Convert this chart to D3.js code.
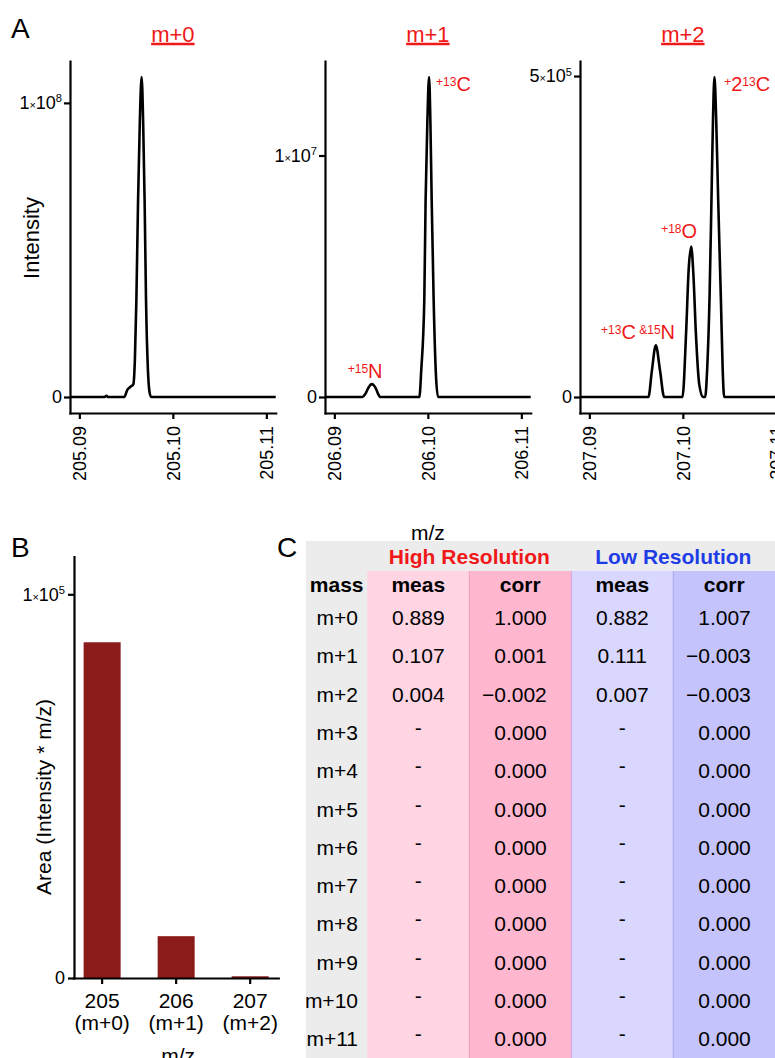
<!DOCTYPE html>
<html>
<head>
<meta charset="utf-8">
<script src="https://cdn.jsdelivr.net/npm/d3@7"></script>
<style>
  body { margin: 0; background: #fff; }
  svg { display: block; }
</style>
</head>
<body>
<div id="chart"></div>
<script>
// ---- panel A: spectra (m/z, intensity) ----
var m0Mz = [205.08900, 205.09267, 205.09289, 205.09310, 205.09481, 205.09513, 205.09545, 205.09578,
            205.09594, 205.09610, 205.09628, 205.09647, 205.09666, 205.09682, 205.09698, 205.09713,
            205.09733, 205.09749, 205.09767, 205.11100];
var m0Int = [0, 0, 4e5, 0, 0, 2.4e6, 3.4e6, 4.4e6,
             1.28e7, 3.31e7, 6.69e7, 9.39e7, 1.088e8, 9.39e7, 6.69e7, 3.31e7,
             9.5e6, 2.0e6, 0, 0];

var m1Mz = [206.08900, 206.09300, 206.09330, 206.09362, 206.09383, 206.09401, 206.09420, 206.09442,
            206.09469, 206.09490, 206.09909, 206.09930, 206.09962, 206.09976, 206.09995, 206.10013,
            206.10027, 206.10041, 206.10062, 206.10086, 206.10109, 206.11100];
var m1Int = [0, 0, 1.2e5, 3.7e5, 4.9e5, 5.35e5, 4.9e5, 3.7e5,
             1.2e5, 0, 0, 1.15e6, 4.03e6, 8.15e6, 1.144e7, 1.325e7,
             1.144e7, 8.15e6, 4.03e6, 9.5e5, 0, 0];

var m2Mz = [207.08900, 207.09632, 207.09668, 207.09711, 207.09757, 207.09800, 207.09996, 207.10035,
            207.10062, 207.10089, 207.10113, 207.10139, 207.10175, 207.10214, 207.10239, 207.10260,
            207.10285, 207.10306, 207.10322, 207.10338, 207.10357, 207.10378, 207.10407, 207.10426,
            207.10442, 207.11100];
var m2Int = [0, 0, 4.0e4, 8.05e4, 4.0e4, 0, 0, 1.006e5,
             1.98e5, 2.342e5, 1.904e5, 1.006e5, 2.0e4, 0, 0, 4.33e4,
             1.517e5, 3.065e5, 4.30e5, 4.985e5, 4.30e5, 3.065e5, 1.517e5, 4.33e4,
             0, 0];

var panelTitles = ["m+0", "m+1", "m+2"];
var xTicks0 = [205.09, 205.10, 205.11];
var xTicks1 = [206.09, 206.10, 206.11];
var xTicks2 = [207.09, 207.10, 207.11];
var yTicks0 = [0, 1e8];
var yTicks1 = [0, 1e7];
var yTicks2 = [0, 5e5];

// isotope labels: panel index, m/z, intensity, text pieces (1 = small raised)
var isoPanel = [1, 1, 2, 2, 2];
var isoMz = [206.10088, 206.09329, 207.10442, 207.09960, 207.09521];
var isoInt = [1.265e7, 7.7e5, 4.768e5, 2.481e5, 9.09e4];
var isoAnchor = ["start", "middle", "start", "middle", "middle"];
var isoParts = [
  [["+", 1], ["13", 1], ["C", 0]],
  [["+", 1], ["15", 1], ["N", 0]],
  [["+", 1], ["2", 0], ["13", 1], ["C", 0]],
  [["+", 1], ["18", 1], ["O", 0]],
  [["+", 1], ["13", 1], ["C", 0], [" &", 1], ["15", 1], ["N", 0]]
];

// ---- panel B: peak areas ----
var barMz = ["205", "206", "207"];
var barIso = ["(m+0)", "(m+1)", "(m+2)"];
var barArea = [87500, 10900, 450];
var barTicks = [0, 1e5];

// ---- panel C: table ----
var massLabels = ["m+0", "m+1", "m+2", "m+3", "m+4", "m+5", "m+6", "m+7", "m+8", "m+9", "m+10", "m+11"];
var hiMeas = ["0.889", "0.107", "0.004", "-", "-", "-", "-", "-", "-", "-", "-", "-"];
var hiCorr = ["1.000", "0.001", "\u22120.002", "0.000", "0.000", "0.000", "0.000", "0.000", "0.000", "0.000", "0.000", "0.000"];
var loMeas = ["0.882", "0.111", "0.007", "-", "-", "-", "-", "-", "-", "-", "-", "-"];
var loCorr = ["1.007", "\u22120.003", "\u22120.003", "0.000", "0.000", "0.000", "0.000", "0.000", "0.000", "0.000", "0.000", "0.000"];

var W = 775, H = 1058;
var FONT = '"Liberation Sans", Arial, Helvetica, sans-serif';
var RED = "#f01818";
var BLUE = "#1f3de6";

var svg = d3.select("#chart").append("svg")
  .attr("width", W).attr("height", H)
  .style("font-family", FONT);
svg.append("rect").attr("width", W).attr("height", H).attr("fill", "#fff");

// 1x10^8 style tick text
function sciTick(text, v) {
  text.text(null);
  if (v === 0) { text.text("0"); return; }
  var e = Math.floor(Math.log10(v) + 1e-9);
  var m = Math.round(v / Math.pow(10, e));
  text.append("tspan").text(m);
  text.append("tspan").attr("font-size", "0.6em").text("\u00d7");
  text.append("tspan").text("10");
  text.append("tspan").attr("font-size", "0.62em").attr("dy", "-0.6em").text(e);
}

function styleAxis(g, size) {
  g.attr("font-family", FONT).attr("font-size", size);
  g.select(".domain").attr("stroke", "#000").attr("stroke-width", 2.2).attr("stroke-linecap", "square");
  g.selectAll(".tick line").attr("stroke", "#000").attr("stroke-width", 2.2);
  g.selectAll(".tick text").attr("fill", "#000");
}

function panelLetter(t, x, y) {
  svg.append("text").attr("x", x).attr("y", y).attr("font-size", 28).text(t);
}

// ================= C (drawn first so axis titles stay on top) =================
panelLetter("C", 277, 557);

var tLeft = 306, massRight = 367.3, hdrTop = 541, hdrBottom = 571;
var colKeys = ["hiMeas", "hiCorr", "loMeas", "loCorr"];
var colVals = [hiMeas, hiCorr, loMeas, loCorr];
var colFill = ["#ffd5e3", "#ffb7d0", "#d9d7fd", "#c5c3fc"];
var colEdge = [null, "#f29bbd", "#d39fd6", "#a9a6f0"];
var colHead = ["meas", "corr", "meas", "corr"];
var xc = d3.scaleBand().domain(colKeys).range([massRight, massRight + 4 * 102]);
var rowY = d3.scalePoint().domain(massLabels).range([625, 1046.3]);

var tg = svg.append("g").attr("font-size", 21);
tg.append("rect").attr("x", tLeft).attr("y", hdrTop).attr("width", W - tLeft).attr("height", H - hdrTop).attr("fill", "#ececec");
tg.selectAll("rect.col").data(colKeys).join("rect")
  .attr("class", "col")
  .attr("x", function (d) { return xc(d); })
  .attr("y", hdrBottom)
  .attr("width", xc.bandwidth())
  .attr("height", H - hdrBottom)
  .attr("fill", function (d, i) { return colFill[i]; });
tg.selectAll("line.edge").data(colKeys.slice(1)).join("line")
  .attr("class", "edge")
  .attr("x1", function (d) { return xc(d); }).attr("x2", function (d) { return xc(d); })
  .attr("y1", hdrBottom).attr("y2", H)
  .attr("stroke", function (d, i) { return colEdge[i + 1]; })
  .attr("stroke-width", 1);

// group headers
tg.append("text").attr("x", xc("hiCorr")).attr("y", 564.3).attr("text-anchor", "middle")
  .attr("font-weight", "bold").attr("fill", RED).text("High Resolution");
tg.append("text").attr("x", xc("loCorr")).attr("y", 564.3).attr("text-anchor", "middle")
  .attr("font-weight", "bold").attr("fill", BLUE).text("Low Resolution");

// column headers
tg.append("text").attr("x", (tLeft + massRight) / 2).attr("y", 591.7).attr("text-anchor", "middle")
  .attr("font-weight", "bold").text("mass");
colKeys.forEach(function (k, i) {
  tg.append("text").attr("x", xc(k) + xc.bandwidth() / 2).attr("y", 591.7).attr("text-anchor", "middle")
    .attr("font-weight", "bold").text(colHead[i]);
});

// body
tg.selectAll("text.mass").data(massLabels).join("text")
  .attr("class", "mass")
  .attr("x", 358).attr("y", function (d) { return rowY(d); })
  .attr("text-anchor", "end").text(function (d) { return d; });

colKeys.forEach(function (k, c) {
  var isCorr = k.indexOf("Corr") > 0;
  tg.selectAll("text." + k).data(colVals[c]).join("text")
    .attr("class", k)
    .attr("x", isCorr ? xc(k) + 77.5 : xc(k) + xc.bandwidth() / 2)
    .attr("y", function (d, i) { return rowY(massLabels[i]) - (d === "-" ? 5 : 0); })
    .attr("text-anchor", isCorr ? "end" : "middle")
    .text(function (d) { return d; });
});

// ================= A =================
panelLetter("A", 11, 38);

var specMz = [m0Mz, m1Mz, m2Mz];
var specInt = [m0Int, m1Int, m2Int];
var specXTicks = [xTicks0, xTicks1, xTicks2];
var specYTicks = [yTicks0, yTicks1, yTicks2];
var panelLeft = [70, 325, 580];
var panelW = 205.7;
var aTop = 61, aBottom = 413;
var xs = [], ys = [];

specMz.forEach(function (mz, i) {
  var ints = specInt[i];
  var ticks = specXTicks[i];
  var span = ticks[2] - ticks[0];
  var x = d3.scaleLinear()
    .domain([ticks[0] - span * 0.05, ticks[2] + span * 0.05])
    .range([panelLeft[i], panelLeft[i] + panelW]);
  var ymax = d3.max(ints);
  var y = d3.scaleLinear().domain([-0.05 * ymax, 1.05 * ymax]).range([aBottom, aTop]);
  xs.push(x); ys.push(y);

  var g = svg.append("g");

  var line = d3.line()
    .curve(d3.curveMonotoneX)
    .x(function (d) { return x(d[0]); })
    .y(function (d) { return y(d[1]); });
  g.append("path")
    .datum(d3.zip(mz, ints))
    .attr("d", line)
    .attr("fill", "none")
    .attr("stroke", "#000")
    .attr("stroke-width", 2.6)
    .attr("stroke-linejoin", "round");

  var ya = g.append("g").attr("transform", "translate(" + panelLeft[i] + ",0)")
    .call(d3.axisLeft(y).tickValues(specYTicks[i]).tickSize(6).tickSizeOuter(0).tickPadding(2));
  styleAxis(ya, 18);
  ya.selectAll(".tick text").each(function (d) { sciTick(d3.select(this), d); });

  var xa = g.append("g").attr("transform", "translate(0," + aBottom + ")")
    .call(d3.axisBottom(x).tickValues(ticks).tickSize(6).tickSizeOuter(0).tickFormat(d3.format(".2f")));
  styleAxis(xa, 18);
  xa.selectAll(".tick text")
    .attr("transform", "rotate(-90)")
    .attr("text-anchor", "end")
    .attr("x", -13)
    .attr("y", 0)
    .attr("dy", "0.36em");

  // red underlined title
  var cx = panelLeft[i] + panelW / 2;
  var t = svg.append("text").attr("x", cx).attr("y", 41.5)
    .attr("text-anchor", "middle").attr("font-size", 22).attr("fill", RED)
    .text(panelTitles[i]);
  var bb = t.node().getBBox();
  svg.append("line").attr("x1", bb.x).attr("x2", bb.x + bb.width)
    .attr("y1", 44).attr("y2", 44).attr("stroke", RED).attr("stroke-width", 2.3);
});

// isotope annotations
isoPanel.forEach(function (p, k) {
  var t = svg.append("text")
    .attr("x", xs[p](isoMz[k])).attr("y", ys[p](isoInt[k]))
    .attr("text-anchor", isoAnchor[k])
    .attr("fill", RED).attr("font-size", 20);
  var off = 0;
  isoParts[k].forEach(function (part) {
    var raise = part[1] ? 5 : 0;
    t.append("tspan")
      .attr("font-size", part[1] ? 12 : 20)
      .attr("dy", off - raise)
      .text(part[0]);
    off = raise;
  });
});

svg.append("text")
  .attr("transform", "translate(39,238) rotate(-90)")
  .attr("text-anchor", "middle").attr("font-size", 22)
  .text("Intensity");
svg.append("text")
  .attr("x", panelLeft[1] + panelW / 2).attr("y", 540)
  .attr("text-anchor", "middle").attr("font-size", 21)
  .text("m/z");

// ================= B =================
panelLetter("B", 11, 557);

var bLeft = 74, bRight = 278.3, bTop = 556.7, bBottom = 978;
var xb = d3.scaleBand().domain(barMz).range([bLeft, bRight]).paddingInner(0.5).paddingOuter(0.13);
var yb = d3.scaleLinear().domain([0, 1.098e5]).range([bBottom, bTop]);

svg.append("g").selectAll("rect")
  .data(barArea)
  .join("rect")
  .attr("x", function (d, i) { return xb(barMz[i]); })
  .attr("width", xb.bandwidth())
  .attr("y", function (d) { return yb(d); })
  .attr("height", function (d) { return bBottom - yb(d); })
  .attr("fill", "#8b1a1a");

var yba = svg.append("g").attr("transform", "translate(" + bLeft + ",0)")
  .call(d3.axisLeft(yb).tickValues(barTicks).tickSize(6).tickSizeOuter(0).tickPadding(3));
styleAxis(yba, 18);
yba.selectAll(".tick text").each(function (d) { sciTick(d3.select(this), d); });

var xba = svg.append("g").attr("transform", "translate(0," + bBottom + ")")
  .call(d3.axisBottom(xb).tickSize(6).tickSizeOuter(0));
styleAxis(xba, 21);
xba.selectAll(".tick text").each(function (d, i) {
  var t = d3.select(this).text(null).attr("y", 0).attr("dy", null);
  t.append("tspan").attr("x", 0).attr("y", 30).text(d);
  t.append("tspan").attr("x", 0).attr("y", 52).text(barIso[i]);
});

svg.append("text")
  .attr("transform", "translate(51,797) rotate(-90)")
  .attr("text-anchor", "middle").attr("font-size", 21)
  .text("Area (Intensity * m/z)");
svg.append("text")
  .attr("x", (bLeft + bRight) / 2 + 2).attr("y", 1063)
  .attr("text-anchor", "middle").attr("font-size", 21)
  .text("m/z");
</script>
</body>
</html>
